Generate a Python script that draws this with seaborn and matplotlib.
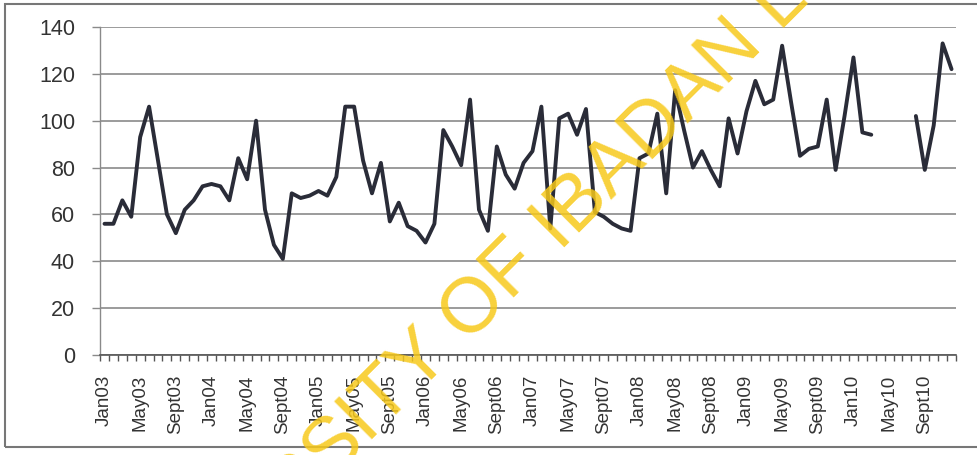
import numpy as np
import pandas as pd
import matplotlib
matplotlib.use("Agg")
import matplotlib.pyplot as plt
import seaborn as sns
from matplotlib.patches import Rectangle

# monthly values Jan03 .. Dec10 (Apr10-Jul10 missing)
years = ["03", "04", "05", "06", "07", "08", "09", "10"]
month_names = ["Jan", "Feb", "Mar", "Apr", "May", "Jun",
               "Jul", "Aug", "Sept", "Oct", "Nov", "Dec"]
vals_2003 = [56, 56, 66, 59, 93, 106, 83, 60, 52, 62, 66, 72]
vals_2004 = [73, 72, 66, 84, 75, 100, 62, 47, 41, 69, 67, 68]
vals_2005 = [70, 68, 76, 106, 106, 83, 69, 82, 57, 65, 55, 53]
vals_2006 = [48, 56, 96, 89, 81, 109, 62, 53, 89, 77, 71, 82]
vals_2007 = [87, 106, 54, 101, 103, 94, 105, 61, 59, 56, 54, 53]
vals_2008 = [84, 86, 103, 69, 113, 96, 80, 87, 79, 72, 101, 86]
vals_2009 = [104, 117, 107, 109, 132, 108, 85, 88, 89, 109, 79, 102]
vals_2010 = [127, 95, 94, np.nan, np.nan, np.nan, np.nan, 102, 79, 98, 133, 122]
y_ticks = [0, 20, 40, 60, 80, 100, 120, 140]

values = (vals_2003 + vals_2004 + vals_2005 + vals_2006 +
          vals_2007 + vals_2008 + vals_2009 + vals_2010)
labels = [m + y for y in years for m in month_names]

df = pd.DataFrame({"idx": np.arange(len(values)), "value": values, "label": labels})
# split into segments so the gap stays a gap
df["segment"] = df["value"].isna().cumsum()
df_plot = df.dropna()

sns.set_style("white")
plt.rcParams["font.family"] = ["Liberation Sans", "DejaVu Sans"]

fig = plt.figure(figsize=(9.77, 4.55), dpi=100)
ax = fig.add_axes([0.1024, 0.2198, 0.8761, 0.7209])

for g in y_ticks:
    ax.axhline(g, color="#8a8a8a", lw=1.2, zorder=1)

sns.lineplot(data=df_plot, x="idx", y="value", units="segment", estimator=None,
             color="#2a2c38", lw=2.8, ax=ax, zorder=3)

ax.set_xlim(-0.5, len(values) - 0.5)
ax.set_ylim(0, 140)
ax.set_xlabel("")
ax.set_ylabel("")

major = df["idx"][::4]
ax.set_xticks(major)
ax.set_xticklabels(df["label"][::4], rotation=90, fontsize=13.5, color="#333333")
ax.set_xticks(np.arange(-0.5, len(values), 1), minor=True)
ax.tick_params(axis="x", which="major", length=0, pad=14)
ax.tick_params(axis="x", which="minor", length=4.5, width=1, color="#555555",
               direction="out", bottom=True)

ax.set_yticks(y_ticks)
ax.set_yticklabels([str(t) for t in y_ticks], fontsize=15.5, color="#333333")
ax.tick_params(axis="y", length=6, width=1, color="#8a8a8a", pad=12, left=True)

for s in ["top", "right"]:
    ax.spines[s].set_visible(False)
ax.spines["left"].set_color("#8a8a8a")
ax.spines["left"].set_linewidth(1)
ax.spines["bottom"].set_color("#555555")
ax.spines["bottom"].set_linewidth(1.2)

# scan watermark, two parts meeting at the "I" of IBADAN
wm = dict(fontsize=56, color="#f7c91a", alpha=0.85, rotation=45,
          rotation_mode="anchor", va="baseline", zorder=10, family="Liberation Sans")
fig.text(544 / 977, 1 - 268 / 455, "UNIVERSITY OF", ha="right", **wm)
fig.text(560 / 977, 1 - 252 / 455, "IBADAN LIBRARY", ha="left", **wm)

# outer frame of the scanned figure
fig.patches.append(Rectangle((5 / 977, 8 / 455), 1.2, 1 - 12 / 455,
                             transform=fig.transFigure, fill=False,
                             edgecolor="#777777", lw=1.5))

fig.savefig("out.png", dpi=100)
